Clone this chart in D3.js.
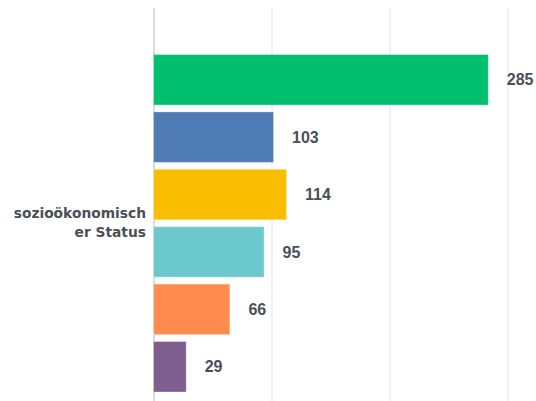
<!DOCTYPE html>
<html>
<head>
<meta charset="utf-8">
<script src="https://cdn.jsdelivr.net/npm/d3@7"></script>
<style>
  body { margin: 0; background: #fff; }
  svg { display: block; font-family: "Liberation Sans", Arial, sans-serif; }
  .grid line { stroke: #ededed; stroke-width: 1.5; }
  .grid .domain { display: none; }
  .value { font-weight: 700; font-size: 16px; fill: #4b4f56; }
  .cat { font-family: "DejaVu Sans", sans-serif; font-weight: 700; font-size: 13.8px; fill: #4b4f56; }
</style>
</head>
<body>
<svg width="536" height="401"></svg>
<script>
// answer options (unlabelled in the chart) and their counts
var answers = ["a1", "a2", "a3", "a4", "a5", "a6"];
var counts = [285, 103, 114, 95, 66, 29];
var barColors = ["#00bf6f", "#507cb6", "#f9be00", "#6bc8cd", "#ff8b4f", "#7f5f90"];
var categoryLines = ["sozioökonomisch", "er Status"];
var gridTicks = [0, 100, 200, 300];

var svg = d3.select("svg");

var x = d3.scaleLinear()
  .domain([0, 300])
  .range([153.5, 507.5]);

var y = d3.scaleBand()
  .domain(answers)
  .range([54.5, 392])
  .paddingInner(0.12)
  .paddingOuter(0);

// vertical grid lines
var grid = svg.append("g")
  .attr("class", "grid")
  .call(d3.axisBottom(x).tickValues(gridTicks).tickSize(393).tickFormat(""))
  .attr("transform", "translate(0, 8)");

grid.selectAll(".tick line")
  .filter(function(d) { return d === 0; })
  .style("stroke", "#cfcfcf");

var bars = svg.append("g").selectAll("rect")
  .data(counts)
  .enter()
  .append("rect")
  .attr("x", x(0))
  .attr("y", function(d, i) { return y(answers[i]); })
  .attr("width", function(d) { return x(d) - x(0) - 1.5; })
  .attr("height", y.bandwidth())
  .attr("fill", function(d, i) { return barColors[i]; })
  .attr("stroke", "#ffffff")
  .attr("stroke-opacity", 0.35)
  .attr("stroke-width", 1);

svg.append("g").selectAll("text")
  .data(counts)
  .enter()
  .append("text")
  .attr("class", "value")
  .attr("x", function(d) { return x(d) + 17; })
  .attr("y", function(d, i) { return y(answers[i]) + y.bandwidth() / 2; })
  .attr("dy", "0.35em")
  .text(function(d) { return d; });

// category label, wrapped as in the original
var mid = (y.range()[0] + y.range()[1]) / 2;
svg.append("text")
  .attr("class", "cat")
  .attr("text-anchor", "end")
  .attr("x", 146)
  .attr("y", mid - 5.5)
  .selectAll("tspan")
  .data(categoryLines)
  .enter()
  .append("tspan")
  .attr("x", 146)
  .attr("dy", function(d, i) { return i === 0 ? 0 : 19; })
  .text(function(d) { return d; });
</script>
</body>
</html>
